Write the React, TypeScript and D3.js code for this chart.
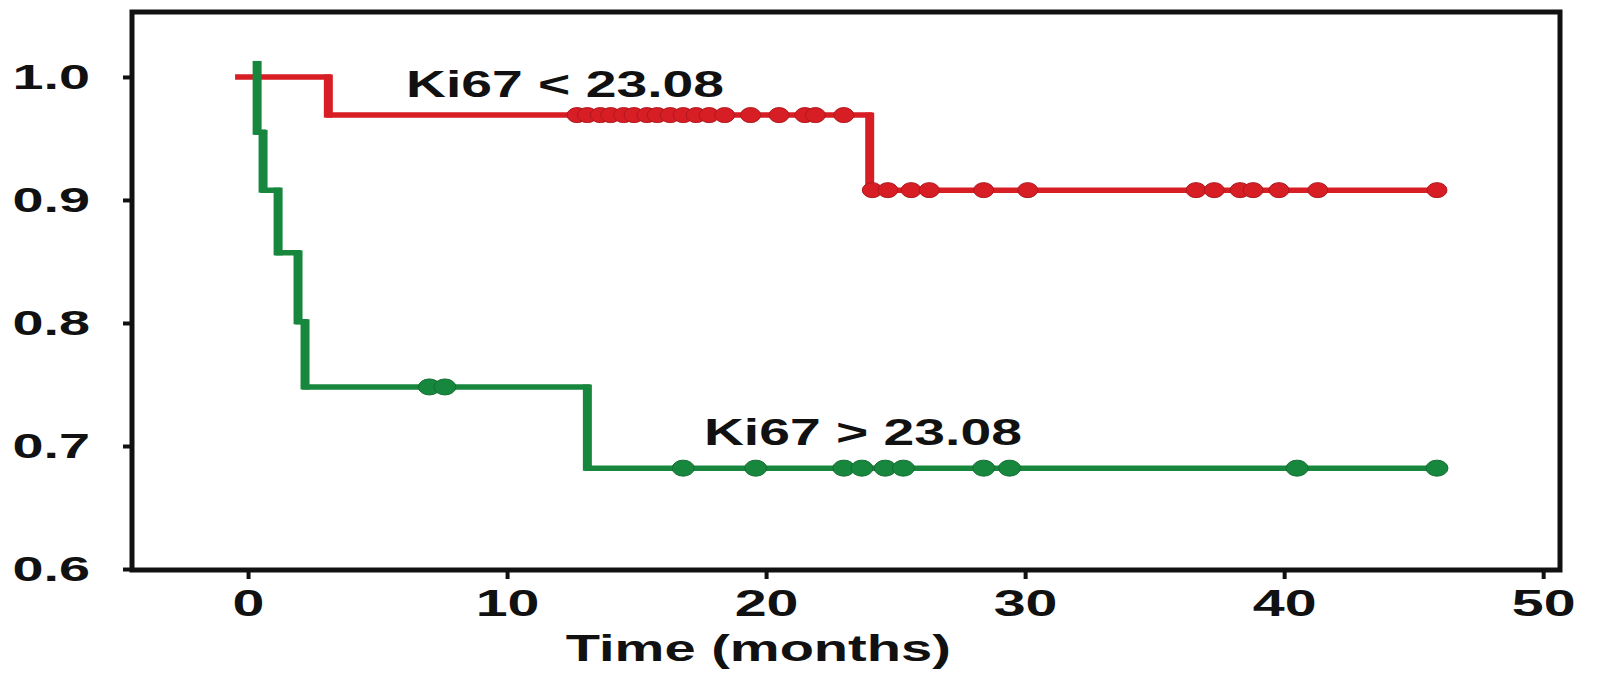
import React, { useEffect, useRef } from 'react';
import * as d3 from 'd3';

// Kaplan-Meier step points (time in months, survival)
const lowTimes = [-0.5, 3.1, 24.0, 45.9];
const lowSurv = [1.0, 0.969, 0.908, 0.908];
const highTimes = [0.35, 0.35, 0.58, 1.16, 1.93, 2.2, 13.1, 45.9];
const highSurv = [1.011, 0.955, 0.908, 0.857, 0.801, 0.748, 0.682, 0.682];

// censored observations
const lowCensor = [12.7, 13.1, 13.6, 14.0, 14.5, 14.9, 15.4, 15.8, 16.3, 16.8, 17.3, 17.8, 18.4, 19.4, 20.5, 21.5, 21.9, 23.0,
  24.1, 24.7, 25.6, 26.3, 28.4, 30.1, 36.6, 37.3, 38.3, 38.8, 39.8, 41.3, 45.9];
const highCensor = [7.0, 7.6, 16.8, 19.6, 23.0, 23.7, 24.6, 25.3, 28.4, 29.4, 40.5, 45.9];

const xTicks = [0, 10, 20, 30, 40, 50];
const yTicks = [0.6, 0.7, 0.8, 0.9, 1.0];
const groupLabels = ['Ki67 < 23.08', 'Ki67 > 23.08'];
const labelAt = [[6.1, 0.984], [17.6, 0.701]];
const xTitle = 'Time (months)';

const RED = '#d81e25';
const GREEN = '#17873d';
const FONT = '"Liberation Sans", Arial, sans-serif';

export default function App() {
  const ref = useRef<SVGSVGElement>(null);

  useEffect(() => {
    document.body.style.margin = '0';
    const W = 1599, H = 677;
    const margin = { top: 12, right: 39, bottom: 107, left: 132 };
    const width = W - margin.left - margin.right,
      height = H - margin.top - margin.bottom;

    const root = d3.select(ref.current);
    root.selectAll('*').remove();
    const svg = root.append('g')
      .attr('transform', 'translate(' + margin.left + ',' + margin.top + ')');

    const x = d3.scaleLinear().domain([-4.48, 50.65]).range([0, width]);
    const y = d3.scaleLinear().domain([0.5992, 1.0528]).range([height, 0]);

    // frame
    svg.append('rect')
      .attr('width', width).attr('height', height)
      .attr('fill', 'none').attr('stroke', '#111').attr('stroke-width', 5);

    // y axis
    const sx = 1.55;
    const gy = svg.append('g')
      .call(d3.axisLeft(y).tickValues(yTicks).tickFormat(d3.format('.1f')).tickSize(9));
    gy.select('.domain').remove();
    gy.selectAll('line').attr('stroke', '#111').attr('stroke-width', 4);
    gy.selectAll('text')
      .attr('x', -42 / sx)
      .attr('transform', 'scale(' + sx + ',1)')
      .style('font-family', FONT).style('font-weight', 'bold').style('font-size', '36px').attr('fill', '#111');

    // x axis
    const gx = svg.append('g')
      .attr('transform', 'translate(0,' + height + ')')
      .call(d3.axisBottom(x).tickValues(xTicks).tickFormat(d3.format('d')).tickSize(9).tickPadding(11));
    gx.select('.domain').remove();
    gx.selectAll('line').attr('stroke', '#111').attr('stroke-width', 4);
    gx.selectAll('text')
      .attr('transform', 'scale(' + sx + ',1)')
      .style('font-family', FONT).style('font-weight', 'bold').style('font-size', '37px').attr('fill', '#111');

    svg.append('text')
      .attr('x', x(19.7)).attr('y', height + 91)
      .attr('text-anchor', 'middle')
      .attr('textLength', 385).attr('lengthAdjust', 'spacingAndGlyphs')
      .style('font-family', FONT).style('font-weight', 'bold').style('font-size', '37px')
      .attr('fill', '#111')
      .text(xTitle);

    const series = [
      { t: lowTimes, s: lowSurv, c: lowCensor, color: RED, rx: 10, ry: 7.5 },
      { t: highTimes, s: highSurv, c: highCensor, color: GREEN, rx: 11, ry: 8 },
    ];

    series.forEach(function (ser) {
      const pts = ser.t.map((t, i) => [t, ser.s[i]] as [number, number]);
      const path = d3.line<[number, number]>()
        .x(d => x(d[0]))
        .y(d => y(d[1]))
        .curve(d3.curveStepAfter);
      svg.append('path')
        .datum(pts)
        .attr('d', path)
        .attr('fill', 'none')
        .attr('stroke', ser.color)
        .attr('stroke-width', 5.5);
      // vertical drops look thicker in the original
      const drops = pts.slice(1).map((p, i) => ({ t: p[0], a: pts[i][1], b: p[1] })).filter(d => d.a !== d.b);
      svg.append('g').selectAll('line')
        .data(drops)
        .enter()
        .append('line')
        .attr('x1', d => x(d.t)).attr('x2', d => x(d.t))
        .attr('y1', d => y(d.a) - 2.5).attr('y2', d => y(d.b) + 2.5)
        .attr('stroke', ser.color)
        .attr('stroke-width', 9);
      // censor marks
      const survAt = (t: number) => ser.s[Math.max(0, d3.bisectRight(ser.t, t) - 1)];
      svg.append('g').selectAll('ellipse')
        .data(ser.c)
        .enter()
        .append('ellipse')
        .attr('cx', d => x(d))
        .attr('cy', d => y(survAt(d)))
        .attr('rx', ser.rx).attr('ry', ser.ry)
        .attr('fill', ser.color)
        .attr('stroke', d3.color(ser.color)!.darker(0.6).toString())
        .attr('stroke-width', 1);
    });

    groupLabels.forEach(function (lab, i) {
      svg.append('text')
        .attr('x', x(labelAt[i][0])).attr('y', y(labelAt[i][1]))
        .attr('textLength', 318).attr('lengthAdjust', 'spacingAndGlyphs')
        .style('font-family', FONT).style('font-weight', 'bold').style('font-size', '37px')
        .attr('fill', '#111')
        .text(lab);
    });
  }, []);

  return <svg ref={ref} width={1599} height={677} style={{ display: 'block', background: '#fff' }}></svg>;
}
